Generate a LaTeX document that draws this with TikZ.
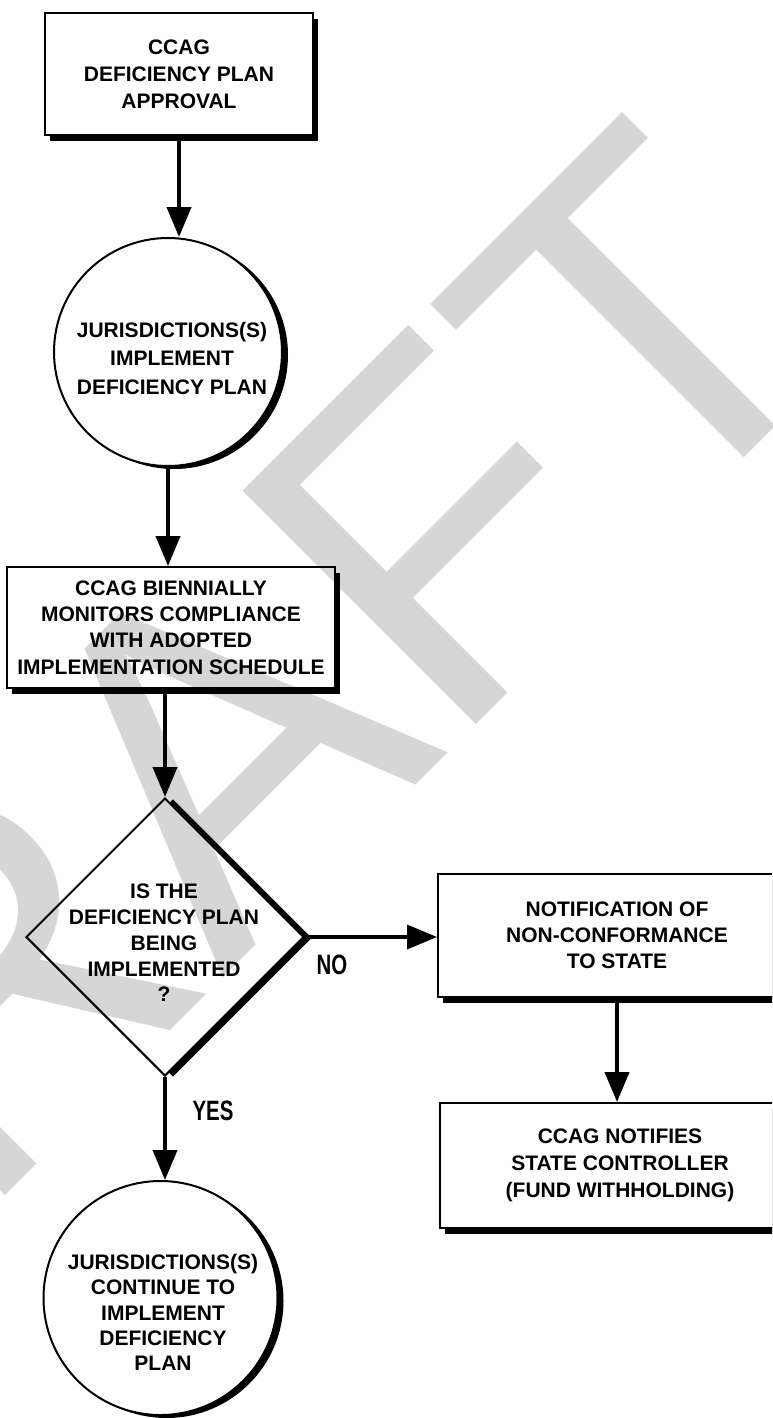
\documentclass[tikz,border=0pt]{standalone}
\usepackage{fontspec}
\usepackage{graphicx}
\setmainfont{Liberation Sans}
\usetikzlibrary{shapes.geometric,shadows,arrows.meta}
\definecolor{wmgray}{RGB}{214,214,214}
\begin{document}
\begin{tikzpicture}[x=1pt,y=-1pt,
  lbl/.style={font=\bfseries\fontsize{21}{#1}\selectfont, align=center, inner sep=0pt},
  boxshape/.style={draw, line width=2pt, fill=white, rectangle, inner sep=0pt,
    drop shadow={shadow xshift=5pt, shadow yshift=-6pt, fill=black, opacity=1}},
  circshape/.style={draw, line width=2pt, fill=white, circle, inner sep=0pt,
    drop shadow={shadow xshift=6pt, shadow yshift=-3pt, fill=black, opacity=1}},
  diashape/.style={draw, line width=2pt, fill=white, diamond, aspect=1, inner sep=0pt,
    drop shadow={shadow xshift=8pt, shadow yshift=-1pt, fill=black, opacity=1}},
  arr/.style={-{Triangle[length=30pt,width=24pt]}, line width=4pt},
  yn/.style={font=\bfseries\fontsize{28}{28}\selectfont, inner sep=0pt},
  wm/.style={font=\fontsize{480}{480}\selectfont, text=wmgray, inner sep=0pt}
]
\useasboundingbox (0,0) rectangle (772,1418);
\fill[white] (0,0) rectangle (772,1418);
\clip (0,0) rectangle (772,1418);

% shapes
\node[boxshape, lbl=27, minimum width=268pt, minimum height=122pt] (b1) at (179,74)
  {CCAG\\DEFICIENCY PLAN\\APPROVAL};
\node[circshape, minimum size=228pt] (c1) at (168,352) {};
\node[lbl=28.5] (c1t) at (172,358) {JURISDICTIONS(S)\\IMPLEMENT\\DEFICIENCY PLAN};
\node[boxshape, lbl=26.3, minimum width=328pt, minimum height=121pt] (b2) at (171,627.5)
  {CCAG BIENNIALLY\\MONITORS COMPLIANCE\\WITH ADOPTED\\IMPLEMENTATION SCHEDULE};
\node[diashape, minimum width=278pt, minimum height=278pt] (d) at (165,937) {};
\node[lbl=25.75] (dt) at (164,943) {IS THE\\DEFICIENCY PLAN\\BEING\\IMPLEMENTED\\?};
\node[boxshape, lbl=26, minimum width=358pt, minimum height=123pt] (b3) at (617,935.5)
  {NOTIFICATION OF\\NON-CONFORMANCE\\TO STATE};
\node[boxshape, lbl=27, minimum width=360pt, minimum height=125pt] (b4) at (620,1165.5)
  {CCAG NOTIFIES\\STATE CONTROLLER\\(FUND WITHHOLDING)};
\node[circshape, minimum size=234pt] (c2) at (160.5,1298) {};
\node[lbl=25.25] (c2t) at (163,1312.5) {JURISDICTIONS(S)\\CONTINUE TO\\IMPLEMENT\\DEFICIENCY\\PLAN};

% labels
\node[yn] (no) at (332,965) {\scalebox{0.73}[1]{NO}};
\node[yn] (yes) at (213,1111) {\scalebox{0.73}[1]{YES}};

% connectors
\draw[arr] (b1.south) -- (b1.south |- c1.north);
\draw[arr] (c1.south) -- (c1.south |- b2.north);
\draw[arr] (d.north |- b2.south) -- (d.north);
\draw[arr, line width=3.5pt] (d.east) -- (d.east -| b3.west);
\draw[arr] (b3.south) -- (b3.south |- b4.north);
\draw[arr] (d.south) -- (d.south |- c2.north);

% watermark, multiplied over the drawing
\begin{scope}[blend mode=multiply]
\node[wm, rotate=45, anchor=base west] (wmark) at (-268,1469) {DRAFT};
\end{scope}
\end{tikzpicture}
\end{document}
